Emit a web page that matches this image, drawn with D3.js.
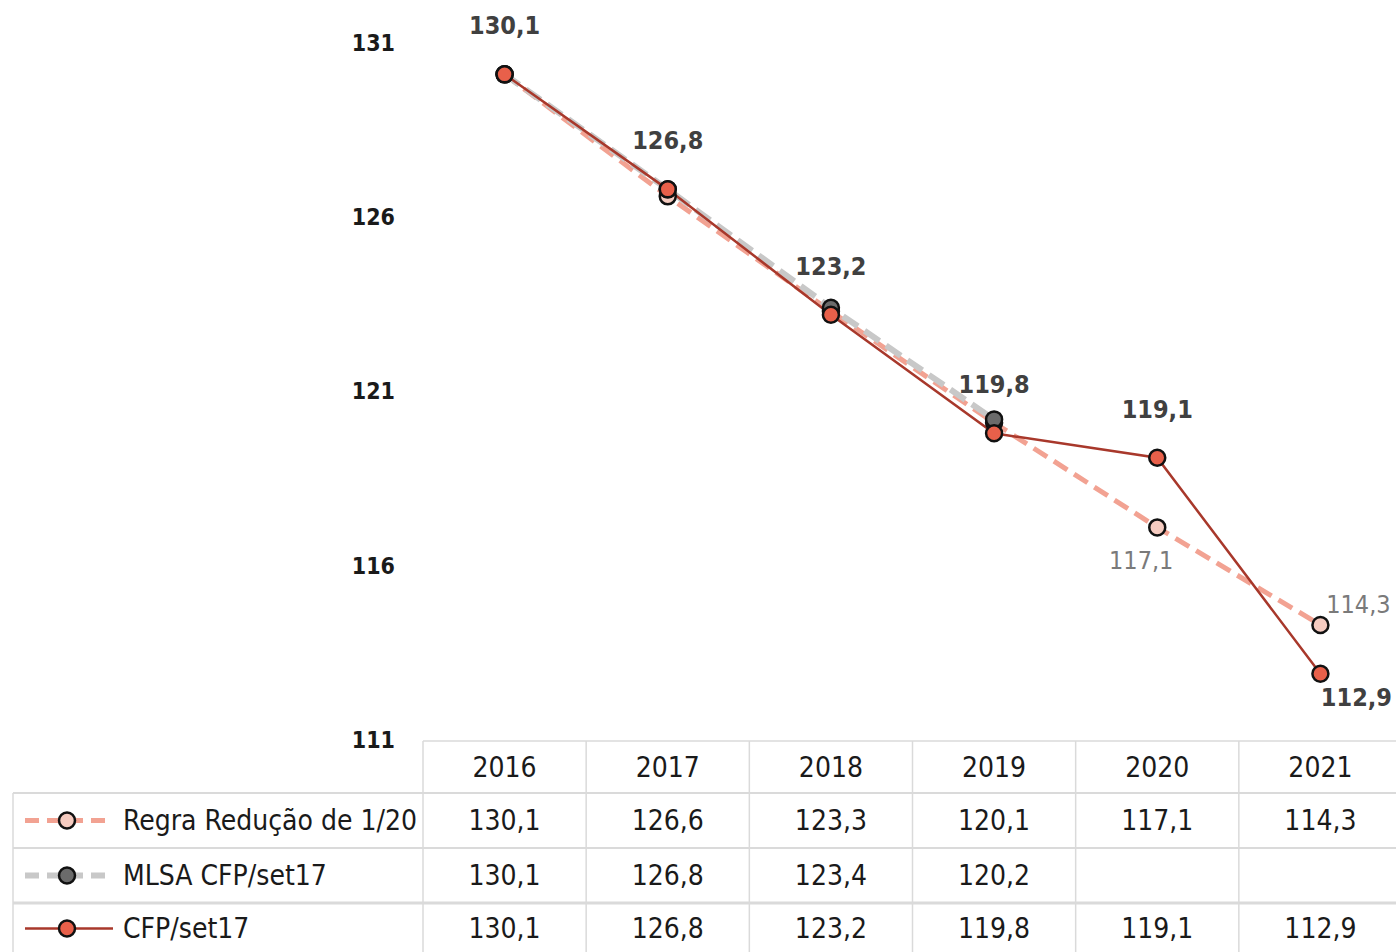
<!DOCTYPE html>
<html><head><meta charset="utf-8">
<script src="https://cdn.jsdelivr.net/npm/d3@7"></script>
<style>
html,body{margin:0;padding:0;background:#fff;}
svg{display:block;font-family:"Liberation Sans Narrow","DejaVu Sans Condensed","Liberation Sans",sans-serif;}
</style></head><body>
<svg id="c" width="1396" height="952"></svg>
<script>
const years = ["2016","2017","2018","2019","2020","2021"];
const regra = [130.1,126.6,123.3,120.1,117.1,114.3];
const mlsa  = [130.1,126.8,123.4,120.2,null,null];
const cfp   = [130.1,126.8,123.2,119.8,119.1,112.9];
const yTicks = [111,116,121,126,131];
const seriesNames = ["Regra Redução de 1/20","MLSA CFP/set17","CFP/set17"];
const fmt = v => v==null ? "" : v.toFixed(1).replace(".", ",");

const svg = d3.select("#c");
const x = d3.scaleBand().domain(years).range([423,1402]);
const xc = d => x(d) + x.bandwidth()/2;
const y = d3.scaleLinear().domain([111,131]).range([740,43]);

// y axis labels
const ax = svg.append("g").attr("transform","translate(395,0)")
  .call(d3.axisLeft(y).tickValues(yTicks).tickSize(0).tickPadding(0).tickFormat(d3.format("d")));
ax.select(".domain").remove();
ax.selectAll("text").attr("font-size",23).attr("font-weight","bold").attr("fill","#1a1a1a")
  .attr("font-family","'Liberation Sans Narrow','DejaVu Sans Condensed',sans-serif");

const styles = [
  {data:regra, line:"#F2A292", width:5, dash:"16,8", fill:"#F5CBC0"},
  {data:mlsa,  line:"#C8C8C8", width:6, dash:"18,8", fill:"#6B6B6B"},
  {data:cfp,   line:"#A8382B", width:2.5, dash:null, fill:"#E8604A"}
];
const line = d3.line().defined(d=>d.v!=null).x(d=>xc(d.k)).y(d=>y(d.v));
styles.forEach(s=>{
  const pts = years.map((k,i)=>({k, v:s.data[i]}));
  svg.append("path").datum(pts).attr("d",line).attr("fill","none")
    .attr("stroke",s.line).attr("stroke-width",s.width)
    .attr("stroke-dasharray",s.dash);
});
styles.forEach(s=>{
  const pts = years.map((k,i)=>({k, v:s.data[i]})).filter(d=>d.v!=null);
  svg.append("g").selectAll("circle").data(pts).join("circle")
    .attr("cx",d=>xc(d.k)).attr("cy",d=>y(d.v)).attr("r",8)
    .attr("fill",s.fill).attr("stroke","#111").attr("stroke-width",2.5);
});

// data labels
const lab = svg.append("g").attr("font-size",25);
years.forEach((k,i)=>{
  const v = cfp[i];
  let dx=0, dy=-40, anchor="middle";
  if (k==="2021"){ dx=36; dy=32; }
  lab.append("text").attr("x",xc(k)+dx).attr("y",y(v)+dy).attr("text-anchor",anchor)
    .attr("font-weight","bold").attr("fill","#404040").text(fmt(v));
});
// Regra labels 2020,2021
[["2020",-16,42],["2021",38,-12]].forEach(([k,dx,dy])=>{
  const i = years.indexOf(k);
  lab.append("text").attr("x",xc(k)+dx).attr("y",y(regra[i])+dy).attr("text-anchor","middle")
    .attr("fill","#7a7a7a").text(fmt(regra[i]));
});

// table
const gridC = "#DADADA";
const rowTops = [741,793,848,903,952];
const tbl = svg.append("g");
// horizontal lines
tbl.append("line").attr("x1",423).attr("x2",1396).attr("y1",rowTops[0]).attr("y2",rowTops[0]).attr("stroke",gridC).attr("stroke-width",1.5);
rowTops.slice(1,4).forEach(t=>{
  tbl.append("line").attr("x1",13).attr("x2",1396).attr("y1",t).attr("y2",t).attr("stroke",gridC).attr("stroke-width",t===903?3:2);
});
// vertical lines
years.forEach(k=>{
  tbl.append("line").attr("x1",x(k)).attr("x2",x(k)).attr("y1",rowTops[0]).attr("y2",952).attr("stroke",gridC).attr("stroke-width",1.5);
});
tbl.append("line").attr("x1",13).attr("x2",13).attr("y1",rowTops[1]).attr("y2",952).attr("stroke",gridC).attr("stroke-width",1.5);

const tfs = 28;
years.forEach(k=>{
  tbl.append("text").attr("x",xc(k)).attr("y",(rowTops[0]+rowTops[1])/2).attr("dy","0.35em")
    .attr("text-anchor","middle").attr("font-size",tfs).attr("fill","#1a1a1a").text(k);
});
styles.forEach((s,r)=>{
  const cy = (rowTops[r+1]+rowTops[r+2])/2 + (r===2?1:0);
  years.forEach((k,i)=>{
    tbl.append("text").attr("x",xc(k)).attr("y",cy).attr("dy","0.35em")
      .attr("text-anchor","middle").attr("font-size",tfs).attr("fill","#1a1a1a").text(fmt(s.data[i]));
  });
  // legend key
  tbl.append("line").attr("x1",25).attr("x2",113).attr("y1",cy).attr("y2",cy)
    .attr("stroke",s.line).attr("stroke-width",s.width).attr("stroke-dasharray",s.dash?"14,8":null);
  tbl.append("circle").attr("cx",67).attr("cy",cy).attr("r",8).attr("fill",s.fill).attr("stroke","#111").attr("stroke-width",2.5);
  tbl.append("text").attr("x",123).attr("y",cy).attr("dy","0.35em").attr("font-size",tfs).attr("fill","#1a1a1a").text(seriesNames[r]);
});
</script>
</body></html>
